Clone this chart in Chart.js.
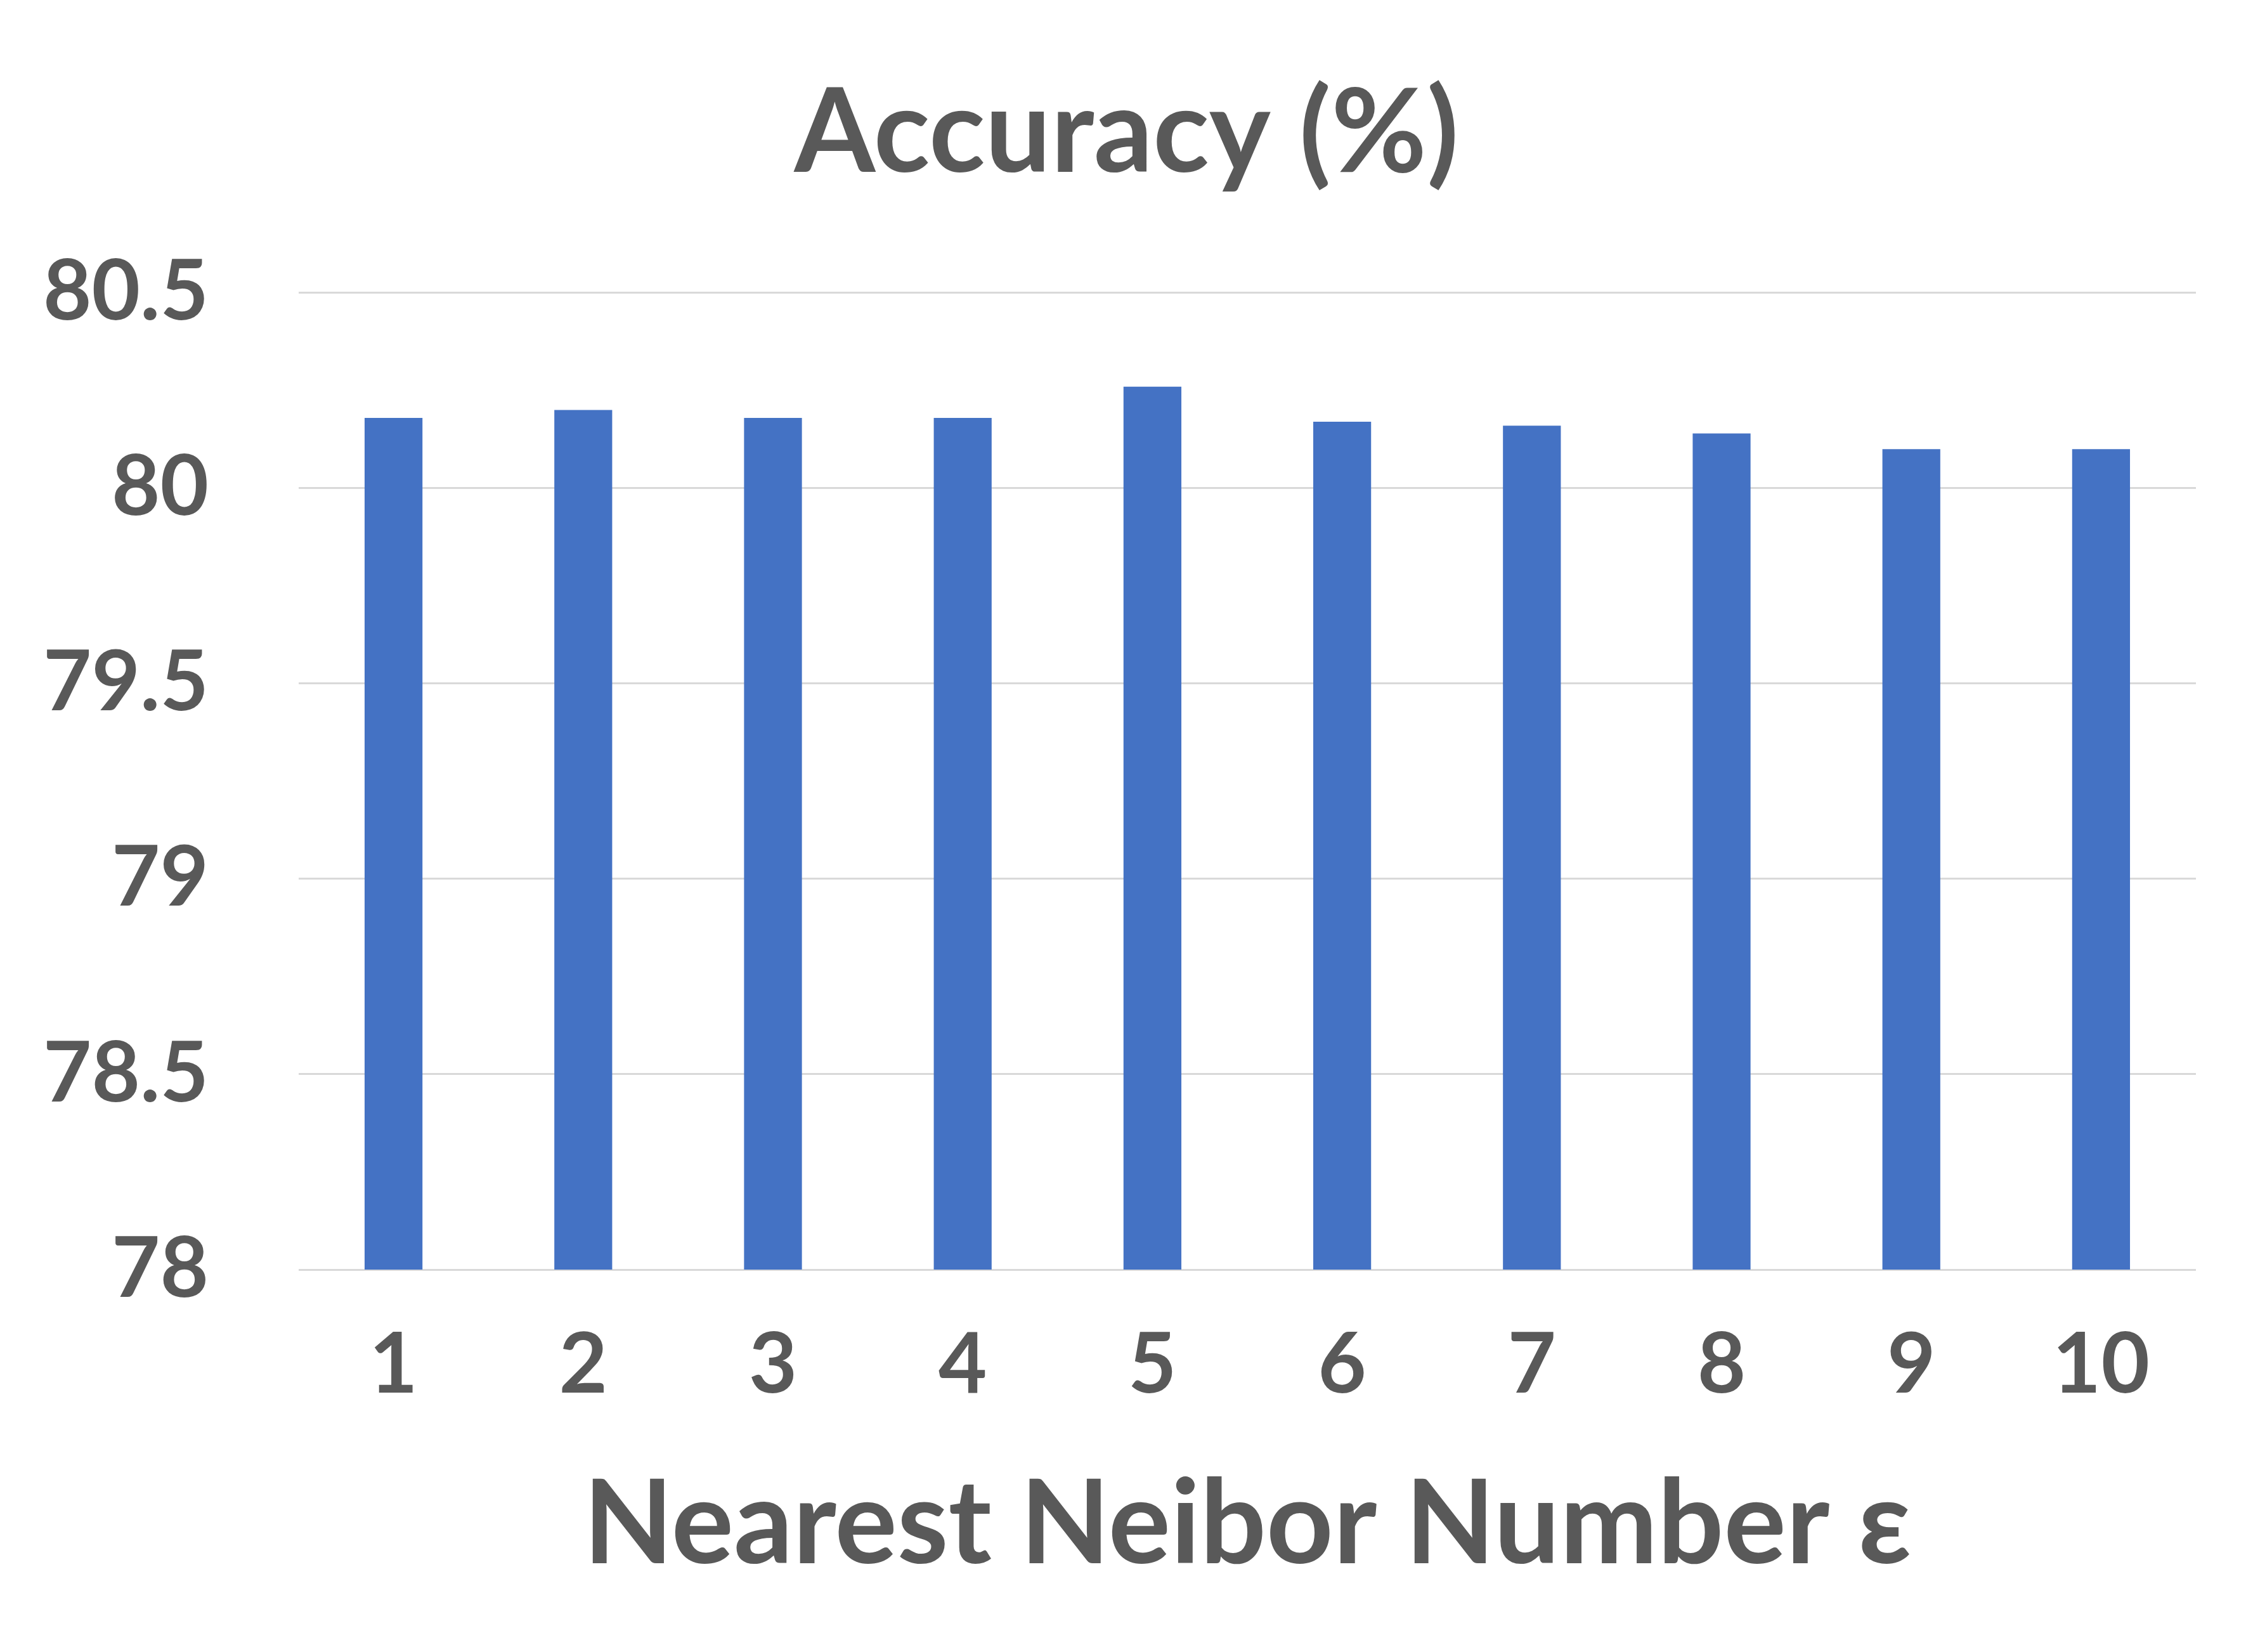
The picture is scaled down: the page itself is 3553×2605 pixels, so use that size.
<!DOCTYPE html>
<html>
<head>
<meta charset="utf-8">
<script src="https://cdn.jsdelivr.net/npm/chart.js@4/dist/chart.umd.min.js"></script>
<style>
  html, body { margin: 0; padding: 0; background: #ffffff; }
  #wrap { width: 3553px; height: 2605px; }
</style>
</head>
<body>
<div id="wrap"><canvas id="c" width="3553" height="2605"></canvas></div>
<script>
const categories = ['1', '2', '3', '4', '5', '6', '7', '8', '9', '10'];
const accuracy = [80.18, 80.20, 80.18, 80.18, 80.26, 80.17, 80.16, 80.14, 80.10, 80.10];
const yTicks = [78, 78.5, 79, 79.5, 80, 80.5];
const chartTitle = 'Accuracy (%)';
const xTitle = 'Nearest Neibor Number ε';

const textColor = '#595959';
const fontFamily = 'Lato, "Open Sans", "DejaVu Sans", sans-serif';

new Chart(document.getElementById('c'), {
  type: 'bar',
  data: {
    labels: categories,
    datasets: [{
      label: 'Accuracy',
      data: accuracy,
      backgroundColor: '#4472C4',
      borderWidth: 0,
      barPercentage: 0.305,
      categoryPercentage: 1.0,
      yAxisID: 'y'
    }]
  },
  options: {
    responsive: false,
    animation: false,
    devicePixelRatio: 1,
    layout: { padding: { left: 0, right: 0, top: 0, bottom: 89 } },
    plugins: {
      legend: { display: false },
      tooltip: { enabled: false },
      title: {
        display: true,
        text: chartTitle,
        color: textColor,
        font: { family: fontFamily, size: 184, weight: 'bold', lineHeight: 1.2 },
        padding: { top: 101, bottom: 140 }
      }
    },
    scales: {
      x: {
        afterFit: (scale) => { scale.height = 514; },
        grid: { display: false, drawTicks: false },
        border: { display: false },
        ticks: {
          color: textColor,
          font: { family: fontFamily, size: 132, weight: 'bold' },
          padding: 72,
          maxRotation: 0,
          autoSkip: false
        },
        title: {
          display: true,
          text: xTitle,
          color: textColor,
          font: { family: fontFamily, size: 184, weight: 'bold', lineHeight: 1.2 },
          padding: { top: 0, bottom: 0 }
        }
      },
      y: {
        min: 78,
        max: 80.5,
        afterBuildTicks: (scale) => { scale.ticks = yTicks.map(v => ({ value: v })); },
        afterFit: (scale) => { scale.width = 471; },
        grid: { color: '#d9d9d9', lineWidth: 3, drawTicks: false },
        border: { display: false },
        ticks: {
          color: textColor,
          font: { family: fontFamily, size: 132, weight: 'bold' },
          padding: 142,
          callback: (v) => String(v)
        }
      },
      yRight: {
        position: 'right',
        afterFit: (scale) => { scale.width = 90; },
        grid: { display: false, drawTicks: false },
        border: { display: false },
        ticks: { display: false }
      }
    }
  }
});
</script>
</body>
</html>
